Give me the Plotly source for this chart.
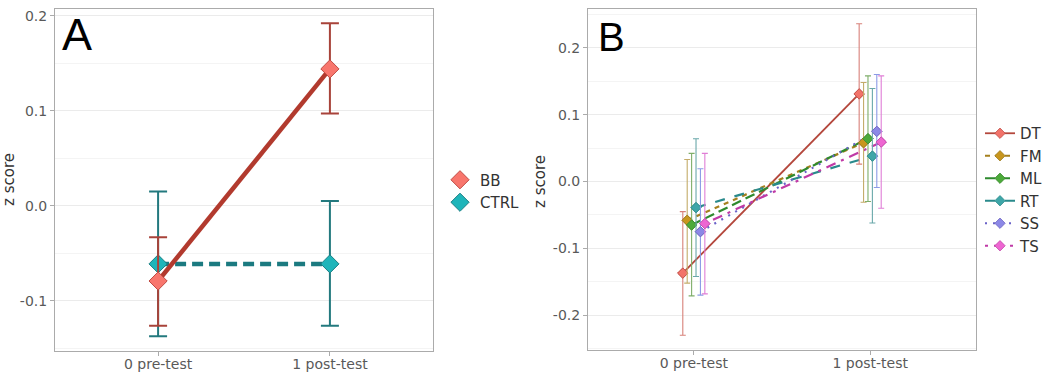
import plotly.graph_objects as go

# ---------------- data ----------------
time_labels = ["0 pre-test", "1 post-test"]
time_index = [0, 1]

# Panel A
groups_a = ["BB", "CTRL"]
bb_mean = [-0.079, 0.144]
bb_low = [-0.126, 0.097]
bb_high = [-0.033, 0.192]
ctrl_mean = [-0.061, -0.061]
ctrl_low = [-0.137, -0.126]
ctrl_high = [0.015, 0.005]

# Panel B
groups_b = ["DT", "FM", "ML", "RT", "SS", "TS"]
b_mean = {
    "DT": [-0.137, 0.131],
    "FM": [-0.058, 0.058],
    "ML": [-0.065, 0.064],
    "RT": [-0.039, 0.038],
    "SS": [-0.075, 0.075],
    "TS": [-0.063, 0.059],
}
b_low = {
    "DT": [-0.230, 0.026],
    "FM": [-0.152, -0.031],
    "ML": [-0.171, -0.030],
    "RT": [-0.142, -0.062],
    "SS": [-0.170, -0.009],
    "TS": [-0.168, -0.040],
}
b_high = {
    "DT": [-0.045, 0.236],
    "FM": [0.033, 0.148],
    "ML": [0.042, 0.158],
    "RT": [0.064, 0.139],
    "SS": [0.019, 0.160],
    "TS": [0.042, 0.158],
}

ytick_a = [-0.1, 0.0, 0.1, 0.2]
ytick_a_text = ["-0.1", "0.0", "0.1", "0.2"]
ytick_b = [-0.2, -0.1, 0.0, 0.1, 0.2]
ytick_b_text = ["-0.2", "-0.1", "0.0", "0.1", "0.2"]

# ---------------- styles ----------------
FONT = "DejaVu Sans, Arial, sans-serif"
LETTER_FONT = "Liberation Sans, Arial, sans-serif"
TICK_COL = "#595959"
GRID = "#EBEBEB"
MINOR = "#F4F4F4"
BORDER = "#ABABAB"

style_a = {
    "BB": dict(line="#B23A2E", fill="#F8766D", edge="#C04A42", err="#A8433A", dash="solid"),
    "CTRL": dict(line="#1B7A80", fill="#1FB5BA", edge="#1A7F84", err="#23797E", dash="11px,6px"),
}
style_b = {
    "DT": dict(line="#B4473C", fill="#F2736A", edge="#C0504A", err="#D8817A", dash="solid"),
    "FM": dict(line="#A5801E", fill="#C8961E", edge="#9A7A20", err="#C4AC6A", dash="5px,5px"),
    "ML": dict(line="#2E8A2E", fill="#4CAA3A", edge="#3A8A30", err="#7FAE6A", dash="10px,5px"),
    "RT": dict(line="#2A8A8C", fill="#3EA6A8", edge="#2E8A8C", err="#6AA8AA", dash="10px,10px"),
    "SS": dict(line="#6A62C8", fill="#8C88E6", edge="#6E66C0", err="#8C9AE6", dash="2px,6px"),
    "TS": dict(line="#C03AA6", fill="#EE66D2", edge="#C04AA8", err="#E07ED6", dash="3px,6px,10px,6px"),
}

fig = go.Figure()

# ---------------- Panel A ----------------
a_data = {
    "BB": (bb_mean, bb_low, bb_high),
    "CTRL": (ctrl_mean, ctrl_low, ctrl_high),
}
for g in ["CTRL", "BB"]:
    m, lo, hi = a_data[g]
    st = style_a[g]
    fig.add_trace(go.Scatter(
        x=time_index, y=m, mode="lines", xaxis="x", yaxis="y",
        line=dict(color=st["line"], width=4.5, dash=st["dash"]),
        showlegend=False, hoverinfo="skip"))
for rank, g in [(2, "CTRL"), (1, "BB")]:
    m, lo, hi = a_data[g]
    st = style_a[g]
    fig.add_trace(go.Scatter(
        x=time_index, y=m, mode="markers", name=g, xaxis="x", yaxis="y",
        legend="legend", legendrank=rank,
        marker=dict(symbol="diamond", size=14, color=st["fill"],
                    line=dict(color=st["edge"], width=1)),
        error_y=dict(type="data", symmetric=False,
                     array=[h - v for h, v in zip(hi, m)],
                     arrayminus=[v - l for v, l in zip(m, lo)],
                     color=st["err"], thickness=2, width=9)))

# ---------------- Panel B ----------------
dodge = 0.15
n = len(groups_b)
for k, g in enumerate(groups_b):
    off = -dodge / 2 + dodge / (2 * n) + k * dodge / n
    xs = [t + off for t in time_index]
    st = style_b[g]
    fig.add_trace(go.Scatter(
        x=xs, y=b_mean[g], mode="lines+markers", name=g, xaxis="x2", yaxis="y2",
        legend="legend2",
        line=dict(color=st["line"], width=2.2 if g != "DT" else 1.8, dash=st["dash"]),
        marker=dict(symbol="diamond", size=8, color=st["fill"],
                    line=dict(color=st["edge"], width=0.8)),
        hoverinfo="skip"))
for k, g in enumerate(groups_b):
    off = -dodge / 2 + dodge / (2 * n) + k * dodge / n
    xs = [t + off for t in time_index]
    st = style_b[g]
    m, lo, hi = b_mean[g], b_low[g], b_high[g]
    fig.add_trace(go.Scatter(
        x=xs, y=m, mode="markers", name=g, xaxis="x2", yaxis="y2",
        showlegend=False,
        marker=dict(symbol="diamond", size=8, color=st["fill"],
                    line=dict(color=st["edge"], width=0.8)),
        error_y=dict(type="data", symmetric=False,
                     array=[h - v for h, v in zip(hi, m)],
                     arrayminus=[v - l for v, l in zip(m, lo)],
                     color=st["err"], thickness=1.1, width=3)))

# ---------------- layout ----------------
W, H = 1053, 379


def px_x(p):
    return p / W


def px_y(p):
    return 1 - p / H


xaxis_common = dict(
    range=[-0.6, 1.6], tickvals=time_index, ticktext=time_labels,
    showgrid=False, zeroline=False, showline=True, mirror=True,
    linecolor=BORDER, linewidth=1, ticks="outside", ticklen=4,
    tickcolor=BORDER, tickfont=dict(size=14, color=TICK_COL, family=FONT),
    ticklabelstandoff=-4, fixedrange=True,
)
yaxis_common = dict(
    showgrid=True, gridcolor=GRID, gridwidth=1, zeroline=False,
    showline=True, mirror=True, linecolor=BORDER, linewidth=1,
    ticks="outside", ticklen=4, tickcolor=BORDER,
    tickfont=dict(size=14, color=TICK_COL, family=FONT), fixedrange=True,
)

fig.update_layout(
    width=W, height=H, margin=dict(l=0, r=0, t=0, b=0),
    paper_bgcolor="white", plot_bgcolor="white",
    font=dict(family=FONT, size=14, color="#333333"),
    xaxis=dict(domain=[px_x(55), px_x(433)], anchor="y", **xaxis_common),
    yaxis=dict(domain=[px_y(351), px_y(9)], anchor="x",
               range=[-0.1526, 0.207], tickvals=ytick_a, ticktext=ytick_a_text,
               minor=dict(tickvals=[-0.15, -0.05, 0.05, 0.15], showgrid=True,
                          gridcolor=MINOR, ticks=""),
               **yaxis_common),
    xaxis2=dict(domain=[px_x(588), px_x(976)], anchor="y2", **xaxis_common),
    yaxis2=dict(domain=[px_y(350), px_y(9)], anchor="x2",
                range=[-0.252, 0.258], tickvals=ytick_b, ticktext=ytick_b_text,
                minor=dict(tickvals=[-0.25, -0.15, -0.05, 0.05, 0.15, 0.25],
                           showgrid=True, gridcolor=MINOR, ticks=""),
                **yaxis_common),
    legend=dict(x=px_x(440), y=px_y(191), xanchor="left", yanchor="middle",
                font=dict(size=15, color="#333333", family=FONT),
                bgcolor="rgba(0,0,0,0)", traceorder="normal"),
    legend2=dict(x=px_x(980), y=px_y(189.5), xanchor="left", yanchor="middle",
                 font=dict(size=15, color="#333333", family=FONT),
                 bgcolor="rgba(0,0,0,0)"),
    annotations=[
        dict(text="A", x=px_x(60), y=px_y(35), xref="paper", yref="paper",
             xanchor="left", yanchor="middle", showarrow=False,
             font=dict(size=45, color="black", family=LETTER_FONT)),
        dict(text="B", x=px_x(596), y=px_y(37), xref="paper", yref="paper",
             xanchor="left", yanchor="middle", showarrow=False,
             font=dict(size=40, color="black", family=LETTER_FONT)),
        dict(text="z score", x=px_x(9), y=px_y(180), xref="paper", yref="paper",
             textangle=-90, xanchor="center", yanchor="middle", showarrow=False,
             font=dict(size=15, color="#333333", family=FONT)),
        dict(text="z score", x=px_x(540), y=px_y(182), xref="paper", yref="paper",
             textangle=-90, xanchor="center", yanchor="middle", showarrow=False,
             font=dict(size=15, color="#333333", family=FONT)),
    ],
)

fig.write_html(
    "out.html",
    config={"displayModeBar": False},
    post_script="document.body.style.margin='0';document.body.style.overflow='hidden';",
)
